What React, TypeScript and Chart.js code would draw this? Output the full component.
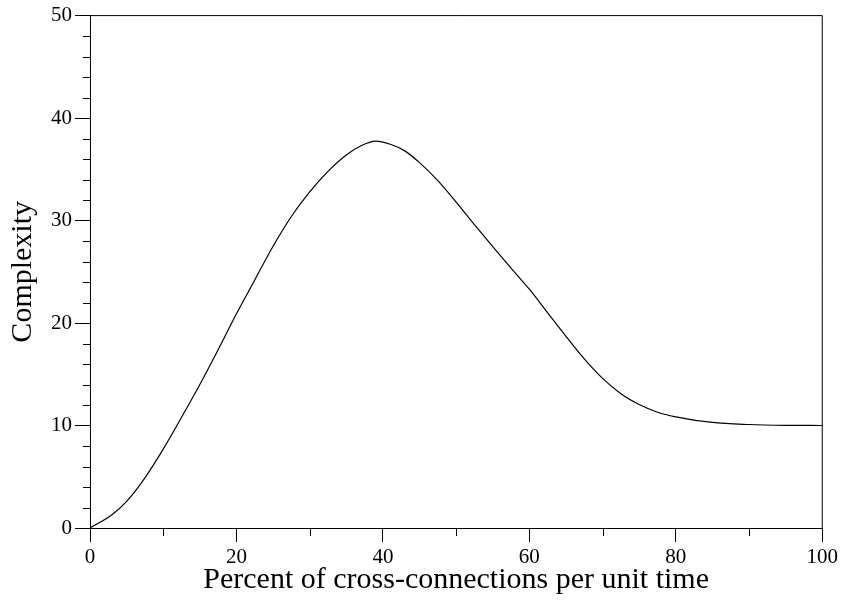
import React, { useEffect, useRef } from "react";
import { Chart, registerables } from "chart.js";

Chart.register(...registerables);

const xValues = [0, 3, 5, 7.5, 10, 12.5, 15, 17.5, 20, 22.5, 25, 27.5, 30, 32.5, 35, 37, 39, 41, 43, 45, 47.5, 50, 52.5, 55, 57.5, 60, 62.5, 65, 67.5, 70, 72.5, 75, 77.5, 80, 85, 90, 95, 100];
const complexity = [0, 1.3, 2.6, 4.9, 7.7, 10.8, 14.0, 17.4, 20.9, 24.2, 27.5, 30.4, 32.8, 34.8, 36.4, 37.3, 37.75, 37.45, 36.8, 35.65, 33.9, 31.8, 29.6, 27.45, 25.35, 23.3, 21.0, 18.7, 16.5, 14.6, 13.1, 12.05, 11.3, 10.85, 10.3, 10.1, 10.02, 10.0];

const xMajorTicks = [0, 20, 40, 60, 80, 100];
const xMinorTicks = [10, 30, 50, 70, 90];
const yMajorTicks = [0, 10, 20, 30, 40, 50];
const yMinorTicks = [2, 4, 6, 8, 12, 14, 16, 18, 22, 24, 26, 28, 32, 34, 36, 38, 42, 44, 46, 48];

const FONT = "'Liberation Serif', 'DejaVu Serif', serif";

const framePlugin = {
  id: "frame",
  afterDraw(chart: any) {
    const { ctx, chartArea } = chart;
    const xs = chart.scales.x;
    const ys = chart.scales.y;
    ctx.save();
    ctx.strokeStyle = "#000";
    ctx.lineWidth = 1;
    ctx.beginPath();
    ctx.moveTo(chartArea.left, chartArea.top);
    ctx.lineTo(chartArea.right, chartArea.top);
    ctx.moveTo(chartArea.right, chartArea.top);
    ctx.lineTo(chartArea.right, chartArea.bottom);
    for (const v of xMinorTicks) {
      const px = Math.round(xs.getPixelForValue(v)) + 0.5;
      ctx.moveTo(px, chartArea.bottom);
      ctx.lineTo(px, chartArea.bottom + 8);
    }
    for (const v of yMinorTicks) {
      const py = Math.round(ys.getPixelForValue(v)) + 0.5;
      ctx.moveTo(chartArea.left, py);
      ctx.lineTo(chartArea.left - 7, py);
    }
    ctx.stroke();
    ctx.restore();
  },
};

export default function App() {
  const ref = useRef<HTMLCanvasElement>(null);

  useEffect(() => {
    if (!ref.current) return;
    const chart = new Chart(ref.current, {
      type: "line",
      data: {
        datasets: [
          {
            data: xValues.map((x, i) => ({ x, y: complexity[i] })),
            borderColor: "#000",
            borderWidth: 1.2,
            pointRadius: 0,
            fill: false,
            cubicInterpolationMode: "monotone",
          },
        ],
      },
      options: {
        animation: false,
        responsive: false,
        maintainAspectRatio: false,
        layout: { padding: { top: 15, right: 18, left: 0, bottom: 0 } },
        plugins: { legend: { display: false }, tooltip: { enabled: false } },
        scales: {
          x: {
            type: "linear",
            min: 0,
            max: 100,
            afterBuildTicks: (s: any) => {
              s.ticks = xMajorTicks.map((v) => ({ value: v }));
            },
            afterFit: (s: any) => {
              s.height = 73;
            },
            ticks: {
              color: "#000",
              font: { family: FONT, size: 21 },
              padding: 3,
              maxRotation: 0,
            },
            grid: {
              drawOnChartArea: false,
              drawTicks: true,
              tickLength: 14,
              tickColor: "#000",
              tickWidth: 1,
            },
            border: { display: true, color: "#000", width: 1 },
            title: {
              display: true,
              text: "Percent of cross-connections per unit time",
              color: "#000",
              font: { family: FONT, size: 30 },
              padding: { top: 0, bottom: 3 },
            },
          },
          y: {
            type: "linear",
            min: 0,
            max: 50,
            afterBuildTicks: (s: any) => {
              s.ticks = yMajorTicks.map((v) => ({ value: v }));
            },
            afterFit: (s: any) => {
              s.width = 90;
            },
            ticks: {
              color: "#000",
              font: { family: FONT, size: 21 },
              padding: 3,
            },
            grid: {
              drawOnChartArea: false,
              drawTicks: true,
              tickLength: 15,
              tickColor: "#000",
              tickWidth: 1,
            },
            border: { display: true, color: "#000", width: 1 },
            title: {
              display: true,
              text: "Complexity",
              color: "#000",
              font: { family: FONT, size: 30 },
              padding: { top: 5, bottom: 0 },
            },
          },
        },
      },
      plugins: [framePlugin],
    });
    return () => chart.destroy();
  }, []);

  return (
    <div style={{ position: "absolute", left: 0, top: 0, width: 841, height: 601, background: "#fff" }}>
      <canvas ref={ref} width={841} height={601} />
    </div>
  );
}
